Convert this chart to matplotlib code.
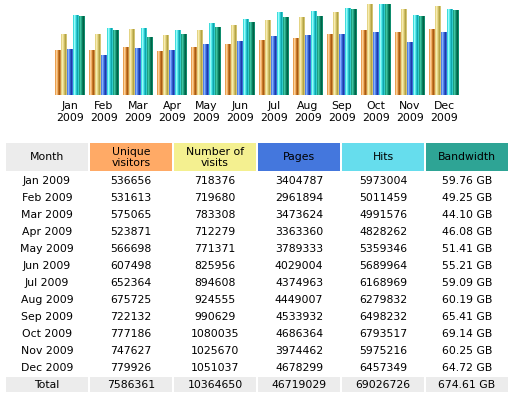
import matplotlib.pyplot as plt
import matplotlib.colors as mcolors
from matplotlib.patches import Rectangle
import numpy as np

# Monthly history table
months = ['Jan', 'Feb', 'Mar', 'Apr', 'May', 'Jun', 'Jul', 'Aug', 'Sep', 'Oct', 'Nov', 'Dec']
year = '2009'
visitors = [536656, 531613, 575065, 523871, 566698, 607498, 652364, 675725, 722132, 777186, 747627, 779926]
visits = [718376, 719680, 783308, 712279, 771371, 825956, 894608, 924555, 990629, 1080035, 1025670, 1051037]
pages = [3404787, 2961894, 3473624, 3363360, 3789333, 4029004, 4374963, 4449007, 4533932, 4686364, 3974462, 4678299]
hits = [5973004, 5011459, 4991576, 4828262, 5359346, 5689964, 6168969, 6279832, 6498232, 6793517, 5975216, 6457349]
bandwidth = [59.76, 49.25, 44.10, 46.08, 51.41, 55.21, 59.09, 60.19, 65.41, 69.14, 60.25, 64.72]
totals = ['Total', '7586361', '10364650', '46719029', '69026726', '674.61 GB']
headers = ['Month', 'Unique\nvisitors', 'Number of\nvisits', 'Pages', 'Hits', 'Bandwidth']

header_colors = ['#ececec', '#ffaa66', '#f4f090', '#4477dd', '#66dded', '#2ea495']

# stripes of the shaded bars (light -> dark)
bar_shades = [
    ['#eaa050', '#fbcf98', '#f0b068', '#c87828', '#a85c14', '#d08c40'],
    ['#e4d484', '#f6ecb0', '#e8d888', '#ccbc64', '#b4a444', '#d4c474'],
    ['#5080e8', '#88b0fa', '#5484ec', '#3058c8', '#1c3ca8', '#3c68d8'],
    ['#40dcdc', '#98fafa', '#58ecec', '#28c4cc', '#10a4ac', '#30cccc'],
    ['#1ea080', '#40c4a0', '#22a484', '#0a7c5c', '#006448', '#0e8c6c'],
]

FS = 7.8
fig = plt.figure(figsize=(5.15, 4.01), dpi=100)
W, H = 515, 401

# ---- bar chart ----
# visitors/visits share a scale, pages/hits share one, bandwidth has its own
series = [
    np.array(visitors) / max(visits),
    np.array(visits) / max(visits),
    np.array(pages) / max(hits),
    np.array(hits) / max(hits),
    np.array(bandwidth) / max(bandwidth),
]

pitch = 34.0
bw = 6.0 / pitch
ax = fig.add_axes([55 / W, 1 - 95 / H, 404 / W, 91 / H])
x = np.arange(len(months))
for j, vals in enumerate(series):
    bars = ax.bar(x + j * bw, vals, width=bw, align='edge', color=bar_shades[j][1], linewidth=0)
    grad = np.array([[mcolors.to_rgb(c) for c in bar_shades[j]]])
    for b in bars:
        im = ax.imshow(grad, extent=[b.get_x(), b.get_x() + b.get_width(), 0, b.get_height()],
                       aspect='auto', interpolation='nearest', zorder=3)
        im.set_clip_path(b)
ax.set_xlim(0, len(months) - 1 + 5 * bw)
ax.set_ylim(0, 1)
ax.set_xticks(x + 2.5 * bw)
ax.set_xticklabels([m + '\n' + year for m in months], fontsize=FS, linespacing=1.25)
ax.tick_params(axis='x', length=0, pad=4)
ax.set_yticks([])
for s in ax.spines.values():
    s.set_visible(False)

# ---- table ----
tx = fig.add_axes([0, 0, 1, 1])
tx.set_xlim(0, W)
tx.set_ylim(H, 0)
tx.axis('off')

col_left = [6 + 84 * i for i in range(6)]
col_w = 82

for i, (h, c) in enumerate(zip(headers, header_colors)):
    tx.add_patch(Rectangle((col_left[i], 143), col_w, 28, facecolor=c, edgecolor='none'))
    tx.text(col_left[i] + col_w / 2, 157.5, h, ha='center', va='center', fontsize=FS, linespacing=1.2)

for k, m in enumerate(months):
    y = 181 + 17 * k
    row = [m + ' ' + year, str(visitors[k]), str(visits[k]), str(pages[k]), str(hits[k]),
           '%.2f GB' % bandwidth[k]]
    for i, v in enumerate(row):
        tx.text(col_left[i] + col_w / 2, y, v, ha='center', va='center', fontsize=FS)

for i, v in enumerate(totals):
    tx.add_patch(Rectangle((col_left[i], 377), col_w, 15, facecolor='#ececec', edgecolor='none'))
    tx.text(col_left[i] + col_w / 2, 385, v, ha='center', va='center', fontsize=FS)

fig.savefig('out.png', dpi=100)
